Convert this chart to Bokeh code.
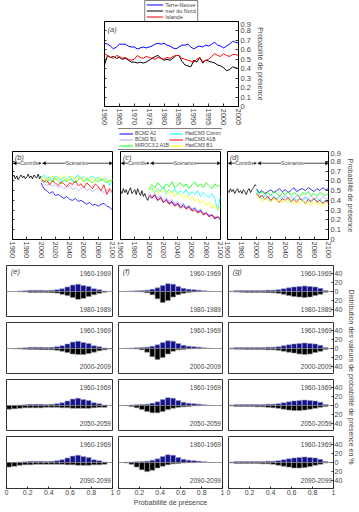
import math
from bokeh.plotting import figure
from bokeh.layouts import column, row
from bokeh.models import (LinearAxis, FixedTicker, CustomJSTickFormatter, Legend, LegendItem,
                          Arrow, NormalHead, Label, Range1d, Spacer)
from bokeh.embed import file_html
from bokeh.resources import INLINE

FONT = "Liberation Sans"

# ---------------- data: panel (a), observed 1960-2005 ----------------
years_a = list(range(1960, 2006))
terre_neuve_obs = [0.67, 0.66, 0.64, 0.61, 0.63, 0.66, 0.66, 0.66, 0.64, 0.63,
                   0.63, 0.61, 0.62, 0.63, 0.62, 0.63, 0.64, 0.66, 0.67, 0.66,
                   0.67, 0.65, 0.64, 0.62, 0.61, 0.63, 0.65, 0.65, 0.66, 0.63,
                   0.61, 0.63, 0.64, 0.63, 0.65, 0.64, 0.66, 0.68, 0.65, 0.64,
                   0.62, 0.64, 0.66, 0.69, 0.68, 0.67]
mer_du_nord_obs = [0.44, 0.54, 0.52, 0.53, 0.51, 0.52, 0.50, 0.51, 0.49, 0.47,
                   0.47, 0.46, 0.47, 0.46, 0.47, 0.49, 0.51, 0.53, 0.54, 0.51,
                   0.49, 0.50, 0.49, 0.51, 0.54, 0.54, 0.48, 0.44, 0.43, 0.42,
                   0.49, 0.47, 0.52, 0.46, 0.49, 0.48, 0.47, 0.46, 0.44, 0.43,
                   0.41, 0.38, 0.39, 0.42, 0.41, 0.40]
islande_obs = [0.56, 0.54, 0.52, 0.51, 0.54, 0.53, 0.51, 0.52, 0.50, 0.49,
               0.50, 0.54, 0.52, 0.51, 0.53, 0.52, 0.51, 0.50, 0.52, 0.51,
               0.50, 0.52, 0.51, 0.53, 0.54, 0.54, 0.51, 0.50, 0.49, 0.48,
               0.47, 0.50, 0.52, 0.47, 0.49, 0.50, 0.53, 0.56, 0.54, 0.53,
               0.56, 0.54, 0.53, 0.55, 0.55, 0.54]
obs_names = ["Terre-Neuve", "mer du Nord", "Islande"]
obs_colors = ["#0000ff", "#000000", "#ff0000"]
ticks_a = [1960, 1965, 1970, 1975, 1980, 1985, 1990, 1995, 2000, 2005]
prob_ticks = [0, 0.1, 0.2, 0.3, 0.4, 0.5, 0.6, 0.7, 0.8, 0.9]

# ---------------- data: panels (b)(c)(d), control + scenarios ----------------
control_years = list(range(1960, 2001, 2))
scen_years = list(range(2000, 2101, 4))
ticks_bcd = [1960, 1980, 2000, 2020, 2040, 2060, 2080, 2100]

ctrl_b = [0.64, 0.66, 0.62, 0.65, 0.61, 0.64, 0.66, 0.63, 0.65, 0.62, 0.64,
          0.67, 0.63, 0.65, 0.62, 0.66, 0.64, 0.63, 0.67, 0.62, 0.65]
ctrl_c = [0.50, 0.47, 0.52, 0.48, 0.51, 0.46, 0.50, 0.53, 0.47, 0.49, 0.51,
          0.46, 0.52, 0.48, 0.45, 0.50, 0.44, 0.47, 0.43, 0.40, 0.44]
ctrl_d = [0.50, 0.48, 0.52, 0.49, 0.51, 0.47, 0.50, 0.52, 0.48, 0.50, 0.47,
          0.51, 0.49, 0.46, 0.50, 0.52, 0.48, 0.51, 0.53, 0.56, 0.55]

b_blue = [0.58, 0.52, 0.50, 0.47, 0.49, 0.45, 0.46, 0.44, 0.42, 0.44, 0.41, 0.40, 0.42,
          0.39, 0.40, 0.38, 0.36, 0.38, 0.35, 0.36, 0.34, 0.36, 0.37, 0.34, 0.33, 0.30]
b_lav = [0.60, 0.58, 0.55, 0.57, 0.54, 0.56, 0.53, 0.55, 0.52, 0.54, 0.55, 0.51, 0.53,
         0.50, 0.52, 0.54, 0.50, 0.52, 0.49, 0.51, 0.53, 0.50, 0.48, 0.51, 0.49, 0.47]
b_green = [0.62, 0.60, 0.58, 0.62, 0.59, 0.63, 0.60, 0.57, 0.61, 0.59, 0.62, 0.60, 0.58,
           0.61, 0.63, 0.59, 0.62, 0.60, 0.58, 0.61, 0.59, 0.62, 0.60, 0.58, 0.61, 0.59]
b_cyan = [0.63, 0.66, 0.62, 0.64, 0.61, 0.65, 0.63, 0.60, 0.64, 0.62, 0.65, 0.61, 0.63,
          0.66, 0.62, 0.64, 0.61, 0.63, 0.65, 0.62, 0.64, 0.60, 0.63, 0.61, 0.55, 0.62]
b_red = [0.62, 0.59, 0.61, 0.56, 0.60, 0.58, 0.55, 0.59, 0.57, 0.54, 0.58, 0.56, 0.60,
         0.55, 0.57, 0.53, 0.58, 0.55, 0.52, 0.57, 0.54, 0.50, 0.56, 0.46, 0.52, 0.48]
b_yellow = [0.61, 0.64, 0.60, 0.63, 0.65, 0.61, 0.64, 0.62, 0.66, 0.60, 0.63, 0.65, 0.61,
            0.64, 0.62, 0.60, 0.64, 0.61, 0.63, 0.59, 0.62, 0.64, 0.60, 0.62, 0.58, 0.61]

c_blue = [0.45, 0.42, 0.46, 0.40, 0.43, 0.38, 0.41, 0.37, 0.39, 0.35, 0.37, 0.33, 0.36,
          0.32, 0.34, 0.30, 0.32, 0.28, 0.30, 0.26, 0.27, 0.24, 0.25, 0.21, 0.23, 0.20]
c_lav = [0.48, 0.44, 0.47, 0.42, 0.45, 0.40, 0.43, 0.39, 0.41, 0.37, 0.39, 0.35, 0.37,
         0.33, 0.35, 0.31, 0.33, 0.29, 0.31, 0.27, 0.28, 0.25, 0.26, 0.23, 0.24, 0.22]
c_green = [0.52, 0.56, 0.53, 0.58, 0.55, 0.52, 0.57, 0.54, 0.59, 0.53, 0.56, 0.58, 0.54,
           0.57, 0.52, 0.56, 0.59, 0.54, 0.57, 0.53, 0.58, 0.55, 0.52, 0.57, 0.54, 0.56]
c_cyan = [0.50, 0.53, 0.48, 0.52, 0.49, 0.54, 0.47, 0.51, 0.48, 0.52, 0.46, 0.50, 0.47,
          0.51, 0.45, 0.49, 0.46, 0.50, 0.44, 0.48, 0.45, 0.43, 0.47, 0.42, 0.30, 0.44]
c_red = [0.46, 0.43, 0.45, 0.40, 0.42, 0.38, 0.40, 0.36, 0.38, 0.34, 0.36, 0.32, 0.34,
         0.31, 0.33, 0.29, 0.30, 0.27, 0.29, 0.25, 0.27, 0.23, 0.25, 0.22, 0.23, 0.21]
c_yellow = [0.52, 0.49, 0.53, 0.47, 0.51, 0.48, 0.52, 0.46, 0.50, 0.44, 0.48, 0.45, 0.42,
            0.46, 0.41, 0.44, 0.39, 0.42, 0.37, 0.40, 0.35, 0.38, 0.32, 0.36, 0.30, 0.34]

d_blue = [0.52, 0.48, 0.50, 0.47, 0.49, 0.51, 0.48, 0.50, 0.52, 0.49, 0.51, 0.48, 0.50,
          0.53, 0.49, 0.51, 0.52, 0.50, 0.53, 0.51, 0.49, 0.52, 0.50, 0.53, 0.51, 0.52]
d_lav = [0.50, 0.46, 0.44, 0.47, 0.43, 0.46, 0.44, 0.42, 0.45, 0.43, 0.46, 0.42, 0.44,
         0.41, 0.45, 0.43, 0.41, 0.44, 0.42, 0.45, 0.41, 0.43, 0.40, 0.44, 0.42, 0.41]
d_green = [0.51, 0.47, 0.49, 0.46, 0.48, 0.45, 0.49, 0.47, 0.44, 0.48, 0.46, 0.49, 0.45,
           0.48, 0.46, 0.44, 0.48, 0.46, 0.49, 0.45, 0.47, 0.44, 0.48, 0.46, 0.45, 0.47]
d_cyan = [0.48, 0.44, 0.41, 0.45, 0.42, 0.39, 0.44, 0.41, 0.43, 0.40, 0.44, 0.41, 0.38,
          0.43, 0.40, 0.42, 0.39, 0.43, 0.40, 0.38, 0.42, 0.39, 0.41, 0.37, 0.40, 0.38]
d_red = [0.47, 0.43, 0.45, 0.41, 0.44, 0.40, 0.43, 0.41, 0.38, 0.42, 0.40, 0.43, 0.39,
         0.41, 0.38, 0.42, 0.40, 0.37, 0.41, 0.39, 0.42, 0.38, 0.40, 0.37, 0.39, 0.38]
d_yellow = [0.46, 0.42, 0.39, 0.43, 0.40, 0.38, 0.42, 0.39, 0.41, 0.37, 0.40, 0.38, 0.41,
            0.36, 0.39, 0.37, 0.40, 0.36, 0.38, 0.35, 0.39, 0.36, 0.37, 0.34, 0.37, 0.35]

scen_names = ["BCM2 A2", "BCM2 B1", "MIROC3.2 A1B", "HadCM3 Comm", "HadCM3 A1B", "HadCM3 B1"]
scen_colors = ["#0000ff", "#b4a8f0", "#00ff00", "#00ffff", "#ff0000", "#ffff00"]
period_spans = [(1961, 2000, 1984, "Contrôle"), (2002, 2100, 2050, "Scénarios")]
period_arrow_y = 0.78

# ---------------- data: histograms (e)(f)(g), % per 0.05 bin ----------------
bin_centers = [round(0.025 + 0.05 * i, 3) for i in range(20)]
hist_ticks_x = [0, 0.2, 0.4, 0.6, 0.8, 1]
hist_ticks_y = [-40, -20, 0, 20, 40]
ref_period = "1960-1969"
other_periods = ["1980-1989", "2000-2009", "2050-2059", "2090-2099"]

e_1960 = [0, 0, 1, 1.5, 2.5, 2.5, 2.5, 2, 2.5, 4, 6, 10, 14, 16, 13, 11, 6, 4, 1, 0]
e_1980 = [0, 0, 0.5, 1, 2, 2, 2, 2, 2.5, 3.5, 6, 9, 13, 17, 15, 11, 7, 4, 1.5, 0]
e_2000 = [0, 0.5, 1, 1.5, 2, 2, 2.5, 2.5, 3, 4, 6, 9, 12, 13, 13, 11, 8, 5, 3, 1]
e_2050 = [8, 7, 6, 5, 5, 5, 5, 4, 4, 4, 5, 5, 6, 6, 6, 6, 5, 4, 4, 0]
e_2090 = [10, 8, 6, 5, 5, 4, 4, 4, 4, 4, 4, 5, 5, 6, 6, 6, 5, 5, 4, 0]

f_1960 = [0, 0.5, 1, 1.5, 2, 3, 5, 8, 13, 17, 16, 11, 7, 5, 4, 3, 1.5, 0.5, 0, 0]
f_1980 = [0, 0, 0, 0.5, 1, 3, 7, 16, 24, 20, 12, 7, 4, 2, 1, 0.5, 0, 0, 0, 0]
f_2000 = [0, 0, 0.5, 1, 3, 8, 18, 24, 20, 12, 6, 3, 2, 1, 0.5, 0.5, 0, 0, 0, 0]
f_2050 = [0, 0.5, 2, 5, 9, 13, 16, 16, 13, 9, 6, 4, 3, 2, 1, 0.5, 0, 0, 0, 0]
f_2090 = [0, 1, 4, 10, 16, 20, 17, 12, 8, 5, 3, 2, 1, 0.5, 0.5, 0, 0, 0, 0, 0]

g_1960 = [1, 2, 2, 2, 2, 2, 2, 3, 3, 4, 6, 8, 10, 11, 12, 11, 10, 7, 2, 0]
g_1980 = [0.5, 1, 1.5, 2, 2, 2, 2, 2.5, 3, 4, 6, 9, 11, 12, 13, 12, 9, 6, 1.5, 0]
g_2000 = [1, 1.5, 1.5, 2, 2, 2, 2, 3, 3, 4, 6, 8, 10, 12, 13, 12, 9, 6, 2, 0]
g_2050 = [1, 2, 2, 2, 2, 3, 3, 4, 5, 6, 8, 10, 11, 11, 10, 8, 6, 4, 2, 0]
g_2090 = [1, 2, 2, 2, 2, 2, 3, 3, 4, 6, 8, 10, 12, 12, 11, 9, 6, 4, 1, 0]

# ---------------- helpers ----------------
fmt_prob = CustomJSTickFormatter(code="return (Math.round(tick*10)/10).toString();")
fmt_abs = CustomJSTickFormatter(code="return Math.abs(tick).toString();")


def base_fig(xr, yr, fw, fh, left, right, top, bottom, outline="black"):
    p = figure(x_range=Range1d(*xr), y_range=Range1d(*yr),
               width=fw + left + right, height=fh + top + bottom,
               x_axis_location=None, y_axis_location=None, title=None,
               output_backend="svg", toolbar_location=None, tools="")
    p.min_border_left = left
    p.min_border_right = right
    p.min_border_top = top
    p.min_border_bottom = bottom
    p.grid.visible = False
    p.outline_line_color = outline
    p.outline_line_width = 1
    p.background_fill_color = "white"
    p.border_fill_color = "white"
    return p


def add_axis(p, side, ticks, fmt=None, orient=None, size="7.5px",
             label=None, label_size="7px", tick_in=3, show_labels=True):
    ax = LinearAxis(ticker=FixedTicker(ticks=ticks))
    ax.major_tick_in = tick_in
    ax.major_tick_out = 0
    ax.major_tick_line_width = 0.8
    ax.minor_tick_line_color = None
    ax.axis_line_color = None
    ax.major_label_text_font = FONT
    ax.major_label_text_font_size = size
    ax.major_label_standoff = 2
    if not show_labels:
        ax.major_label_text_color = None
        ax.major_label_standoff = 0
    if fmt is not None:
        ax.formatter = fmt
    if orient is not None:
        ax.major_label_orientation = orient
    if label:
        ax.axis_label = label
        ax.axis_label_text_font = FONT
        ax.axis_label_text_font_size = label_size
        ax.axis_label_text_font_style = "normal"
        ax.axis_label_standoff = 3
    p.add_layout(ax, side)
    return ax


def panel_letter(p, x, y, txt):
    p.add_layout(Label(x=x, y=y, text=txt, text_font=FONT, text_font_size="7.5px",
                       text_font_style="italic", text_baseline="top", text_align="left"))


def legend_fig(width, height, xs, series, names, colors, font_size, glyph_w, nrows):
    # a small figure holding only the legend; its range is chosen so that the
    # series it is keyed to stay outside the visible area
    p = figure(x_range=Range1d(0, 1), y_range=Range1d(0, 1), width=width, height=height,
               x_axis_location=None, y_axis_location=None, title=None,
               output_backend="svg", toolbar_location=None, tools="")
    p.min_border_left = 0
    p.min_border_right = 0
    p.min_border_top = 0
    p.min_border_bottom = 0
    p.grid.visible = False
    p.outline_line_color = None
    p.background_fill_color = "white"
    p.border_fill_color = "white"
    items = []
    for ys, n, c in zip(series, names, colors):
        r = p.line(xs, ys, line_color=c, line_width=1)
        items.append(LegendItem(label=n, renderers=[r]))
    leg = Legend(items=items, location="center", orientation="vertical", nrows=nrows,
                 label_text_font=FONT, label_text_font_size=font_size, label_height=5,
                 glyph_height=5, glyph_width=glyph_w, label_standoff=2, spacing=0,
                 padding=1, margin=0, border_line_color="black", border_line_width=0.8,
                 background_fill_color="white")
    p.add_layout(leg)
    return p


# ---------------- panel (a) ----------------
obs_series = [terre_neuve_obs, mer_du_nord_obs, islande_obs]
leg_fig_a = legend_fig(64, 21, years_a, obs_series, obs_names, obs_colors, "5.5px", 17, 3)
fig_a = base_fig((1960, 2005), (0, 0.9), 134, 88, 104, 121, 0, 19)
for ys, c in zip(obs_series, obs_colors):
    fig_a.line(years_a, ys, line_color=c, line_width=1)
add_axis(fig_a, "below", ticks_a, orient="vertical")
add_axis(fig_a, "left", prob_ticks, size="5px", tick_in=2, show_labels=False)
add_axis(fig_a, "right", prob_ticks, fmt=fmt_prob, label="Probabilité de présence")
panel_letter(fig_a, 1961, 0.86, "(a)")

# ---------------- panels (b)(c)(d) ----------------
ctrls = [ctrl_b, ctrl_c, ctrl_d]
scens = [[b_blue, b_lav, b_green, b_cyan, b_red, b_yellow],
         [c_blue, c_lav, c_green, c_cyan, c_red, c_yellow],
         [d_blue, d_lav, d_green, d_cyan, d_red, d_yellow]]
leg_fig_s = legend_fig(104, 22, scen_years, scens[0], scen_names, scen_colors, "5px", 14, 3)
geom_bcd = [(12, 100, 4), (4, 100, 4), (3, 101, 31)]
letters_bcd = ["(b)", "(c)", "(d)"]
figs_bcd = []
for i in range(3):
    l, fw, r = geom_bcd[i]
    p = base_fig((1960, 2100), (0, 0.9), fw, 88, l, r, 1, 24)
    for ys, c in zip(scens[i], scen_colors):
        p.line(scen_years, ys, line_color=c, line_width=0.8)
    p.line(control_years, ctrls[i], line_color="black", line_width=0.8)
    add_axis(p, "below", ticks_bcd, orient="vertical")
    if i == 0:
        add_axis(p, "left", prob_ticks, size="5px", tick_in=2, show_labels=False)
    if i == 2:
        add_axis(p, "right", prob_ticks, fmt=fmt_prob, label="Probabilité de présence")
    for x0, x1, xm, txt in period_spans:
        p.add_layout(Arrow(start=NormalHead(size=3, line_width=0.5, fill_color="black"),
                           end=NormalHead(size=3, line_width=0.5, fill_color="black"),
                           x_start=x0, x_end=x1, y_start=period_arrow_y, y_end=period_arrow_y,
                           line_width=0.7, line_color="black"))
        p.add_layout(Label(x=xm, y=period_arrow_y, text=txt, text_font=FONT,
                           text_font_size="5px", text_align="center", text_baseline="middle",
                           background_fill_color="white", background_fill_alpha=1.0))
    panel_letter(p, 1963, 0.885, letters_bcd[i])
    figs_bcd.append(p)

# ---------------- histograms (e)(f)(g) ----------------
hist_geom = [(6, 106, 3), (3, 104, 3), (3, 105, 12)]
hist_base = [e_1960, f_1960, g_1960]
hist_other = [[e_1980, e_2000, e_2050, e_2090],
              [f_1980, f_2000, f_2050, f_2090],
              [g_1980, g_2000, g_2050, g_2090]]
letters_h = ["(e)", "(f)", "(g)"]
hist_rows = []
for ri in range(4):
    figs = []
    for ci in range(3):
        l, fw, r = hist_geom[ci]
        top = 2 if ri == 0 else 5
        bottom = 22 if ri == 3 else 0
        p = base_fig((0, 1), (-57, 57), fw, 52, l, r, top, bottom, outline="#333333")
        p.vbar(x=bin_centers, top=hist_base[ci], bottom=0, width=0.046,
               fill_color="#12128a", line_color="#a0a0c8", line_width=0.6)
        p.vbar(x=bin_centers, top=0, bottom=[-v for v in hist_other[ci][ri]], width=0.046,
               fill_color="#000000", line_color="#909090", line_width=0.6)
        if ri == 3:
            ax = add_axis(p, "below", hist_ticks_x, fmt=fmt_prob, size="7px", tick_in=2,
                          label="Probabilité de présence" if ci == 1 else None)
            ax.major_label_standoff = 1
            ax.axis_label_standoff = 1
        if ci == 2:
            ax = add_axis(p, "right", hist_ticks_y, fmt=fmt_abs, size="7px", tick_in=2)
            ax.major_label_standoff = 1
        p.add_layout(Label(x=0.985, y=40, text=ref_period, text_font=FONT,
                           text_font_size="6.5px", text_align="right", text_baseline="middle"))
        p.add_layout(Label(x=0.985, y=-40, text=other_periods[ri], text_font=FONT,
                           text_font_size="6.5px", text_align="right", text_baseline="middle"))
        if ri == 0:
            p.add_layout(Label(x=0.04, y=54, text=letters_h[ci], text_font=FONT,
                               text_font_size="7.5px", text_font_style="italic",
                               text_baseline="top", text_align="left"))
        figs.append(p)
    hist_rows.append(row(*figs))

fig_lbl = base_fig((0, 1), (0, 1), 2, 223, 0, 12, 2, 22, outline=None)
lbl_ax = LinearAxis(ticker=FixedTicker(ticks=[]))
lbl_ax.axis_line_color = None
lbl_ax.major_tick_line_color = None
lbl_ax.minor_tick_line_color = None
lbl_ax.axis_label = "Distribution des valeurs de probabilité de présence en %"
lbl_ax.axis_label_text_font = FONT
lbl_ax.axis_label_text_font_size = "7px"
lbl_ax.axis_label_text_font_style = "normal"
lbl_ax.axis_label_standoff = 0
lbl_ax.major_label_standoff = 0
fig_lbl.add_layout(lbl_ax, "right")

layout = column(
    row(Spacer(width=139, height=21), leg_fig_a),
    fig_a,
    row(Spacer(width=118, height=22), leg_fig_s),
    row(*figs_bcd),
    row(column(*hist_rows), fig_lbl),
)

open("out.html", "w").write(file_html(layout, INLINE))
